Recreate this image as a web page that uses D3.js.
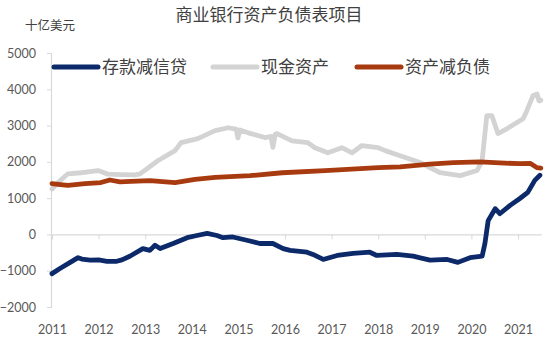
<!DOCTYPE html>
<html><head><meta charset="utf-8">
<script src="https://cdn.jsdelivr.net/npm/d3@7"></script>
<style>body{margin:0;background:#fff;}svg{display:block;font-family:"Noto Sans CJK SC","Noto Sans",sans-serif;}</style>
</head><body><svg id="c" width="550" height="342"></svg>
<script>
const title = "商业银行资产负债表项目";
const unitLabel = "十亿美元";
const seriesNames = ["存款减信贷", "现金资产", "资产减负债"];
const seriesColors = ["#0c2a6a", "#d3d3d3", "#a83a10"];
const xTicks = [2011,2012,2013,2014,2015,2016,2017,2018,2019,2020,2021];
const yTicks = [-2000,-1000,0,1000,2000,3000,4000,5000];

const depMinusLoansT = [2011.00,2011.17,2011.39,2011.56,2011.64,2011.82,2012.00,2012.18,2012.39,2012.50,2012.67,2012.95,2013.10,2013.21,2013.32,2013.60,2013.90,2014.11,2014.33,2014.54,2014.67,2014.88,2015.18,2015.46,2015.74,2015.96,2016.11,2016.47,2016.60,2016.82,2017.12,2017.46,2017.82,2017.97,2018.40,2018.75,2019.11,2019.48,2019.71,2019.97,2020.23,2020.29,2020.36,2020.51,2020.61,2020.83,2021.04,2021.21,2021.36,2021.47];
const depMinusLoansV = [-1080,-940,-770,-640,-680,-710,-700,-740,-740,-700,-600,-390,-440,-300,-390,-250,-90,-30,30,-30,-90,-70,-160,-250,-250,-390,-440,-490,-550,-690,-580,-520,-490,-580,-550,-600,-710,-690,-770,-640,-600,-250,380,710,570,800,990,1160,1490,1630];

const cashT = [2011.00,2011.13,2011.34,2011.62,2011.82,2011.99,2012.12,2012.20,2012.46,2012.78,2012.89,2013.27,2013.64,2013.77,2014.13,2014.50,2014.78,2014.95,2014.99,2015.03,2015.21,2015.57,2015.70,2015.74,2015.79,2015.83,2016.15,2016.49,2016.64,2016.92,2017.22,2017.44,2017.65,2018.00,2018.15,2018.47,2018.90,2019.33,2019.76,2020.12,2020.23,2020.33,2020.44,2020.57,2020.76,2020.97,2021.11,2021.19,2021.32,2021.41,2021.45,2021.49];
const cashV = [1250,1430,1670,1700,1730,1760,1700,1660,1650,1640,1670,2030,2310,2530,2640,2860,2940,2900,2660,2880,2800,2670,2700,2400,2760,2780,2580,2530,2390,2250,2390,2250,2450,2390,2310,2170,1980,1700,1620,1760,2030,3270,3270,2780,2910,3080,3190,3410,3820,3870,3680,3700];

const equityT = [2011.00,2011.13,2011.34,2011.71,2012.05,2012.24,2012.46,2012.70,2013.10,2013.64,2014.07,2014.50,2015.25,2015.94,2016.86,2018.00,2018.47,2019.11,2019.61,2020.18,2020.61,2021.04,2021.26,2021.41,2021.49];
const equityV = [1400,1380,1350,1400,1430,1500,1450,1460,1480,1430,1520,1570,1620,1700,1760,1840,1860,1940,1980,2000,1970,1950,1960,1840,1830];

const svg = d3.select("#c");
const x = d3.scaleLinear().domain([2011, 2021.5]).range([52, 541.3]);
const y = d3.scaleLinear().domain([-2000, 5000]).range([307, 53]);

// title & unit
svg.append("text").attr("x", 269).attr("y", 21).attr("text-anchor","middle")
  .attr("font-size", 17).attr("fill", "#404040").text(title);
svg.append("text").attr("x", 25).attr("y", 30)
  .attr("font-size", 12.5).attr("fill", "#404040").text(unitLabel);

// y axis
const yAxis = svg.append("g").attr("transform","translate(51,0)")
  .call(d3.axisLeft(y).tickValues(yTicks).tickSize(4).tickPadding(11).tickFormat(d3.format("d")));
yAxis.select(".domain").attr("stroke","#d9d9d9").attr("stroke-width",1.2);
yAxis.selectAll(".tick line").attr("stroke","#d9d9d9");
yAxis.selectAll("text").attr("font-size",12.5).attr("fill","#595959").attr("font-family","Lato, 'Noto Sans', sans-serif");

// x axis at zero
const xAxis = svg.append("g").attr("transform",`translate(0,${y(0)})`)
  .call(d3.axisBottom(x).tickValues(xTicks).tickSize(5).tickSizeOuter(0).tickFormat(d3.format("d")));
xAxis.select(".domain").attr("stroke","#d9d9d9").attr("stroke-width",1.2);
xAxis.selectAll(".tick line").attr("stroke","#d9d9d9");
xAxis.selectAll("text").attr("y", 334 - y(0)).attr("dy",0).attr("font-size",12.5).attr("fill","#595959")
  .attr("font-family","Lato, 'Noto Sans', sans-serif");

const line = d3.line().x(d => x(d[0])).y(d => y(d[1]));
const series = [
  [cashT, cashV, 1],
  [equityT, equityV, 2],
  [depMinusLoansT, depMinusLoansV, 0]
];
series.forEach(([t, v, i]) => {
  svg.append("path").datum(t.map((tt, k) => [tt, v[k]]))
    .attr("d", line).attr("fill","none").attr("stroke", seriesColors[i])
    .attr("stroke-width", 4.8).attr("stroke-linejoin","round").attr("stroke-linecap","round");
});

// legend
const legX = [54, 213, 357];
seriesNames.forEach((n, i) => {
  svg.append("line").attr("x1", legX[i]).attr("x2", legX[i] + 44).attr("y1", 67).attr("y2", 67)
    .attr("stroke", seriesColors[i]).attr("stroke-width", 5).attr("stroke-linecap","round");
  svg.append("text").attr("x", legX[i] + 48).attr("y", 73).attr("font-size", 17)
    .attr("fill", "#404040").text(n);
});
</script></body></html>
